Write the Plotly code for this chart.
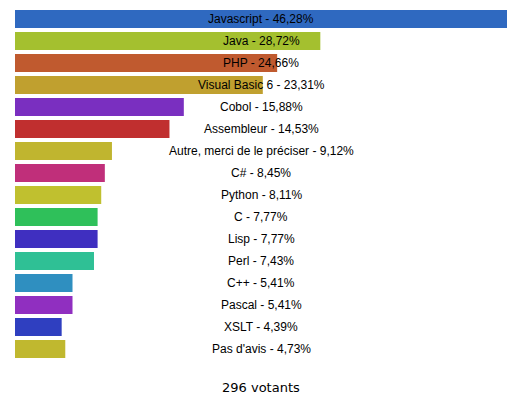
import plotly.graph_objects as go

categories = ["Javascript", "Java", "PHP", "Visual Basic 6", "Cobol", "Assembleur",
              "Autre, merci de le préciser", "C#", "Python", "C", "Lisp", "Perl",
              "C++", "Pascal", "XSLT", "Pas d'avis"]
values = [46.28, 28.72, 24.66, 23.31, 15.88, 14.53, 9.12, 8.45, 8.11, 7.77, 7.77,
          7.43, 5.41, 5.41, 4.39, 4.73]
colors = ["#2f69c0", "#a4c02f", "#c05a2f", "#c0a02f", "#7a2fc0", "#c02f2f",
          "#c0b52f", "#c02f7a", "#c0c02f", "#2fc05a", "#3f2fc0", "#2fc095",
          "#2f8fc0", "#902fc0", "#2f3fc0", "#c0b82f"]
voters = "296 votants"

def fmt(v):
    return f"{v:.2f}".replace(".", ",") + "%"

fig = go.Figure(go.Bar(
    x=values, y=categories, orientation="h",
    marker=dict(color=colors, line=dict(width=0)),
    hoverinfo="skip",
))

for c, v in zip(categories, values):
    fig.add_annotation(x=0.5, xref="paper", y=c, yref="y",
                       text=f"{c} - {fmt(v)}", showarrow=False,
                       font=dict(family="Liberation Sans, Arial", size=12, color="#000000"),
                       xanchor="center", yanchor="middle")

fig.add_annotation(x=0.5, xref="paper", y=-0.077, yref="paper", text=voters,
                   showarrow=False, xanchor="center", yanchor="middle",
                   font=dict(family="DejaVu Sans, Verdana", size=13, color="#000000"))

# the page body has an 8px margin, so the figure is placed at (8, 8)
fig.update_layout(
    width=522, height=390,
    margin=dict(l=7, r=23, t=0, b=38),
    paper_bgcolor="white", plot_bgcolor="white",
    bargap=4/22,
    showlegend=False,
    xaxis=dict(range=[0, max(values)], visible=False, fixedrange=True),
    yaxis=dict(autorange="reversed", visible=False, fixedrange=True),
)

fig.write_html("out.html", config={"displayModeBar": False})
